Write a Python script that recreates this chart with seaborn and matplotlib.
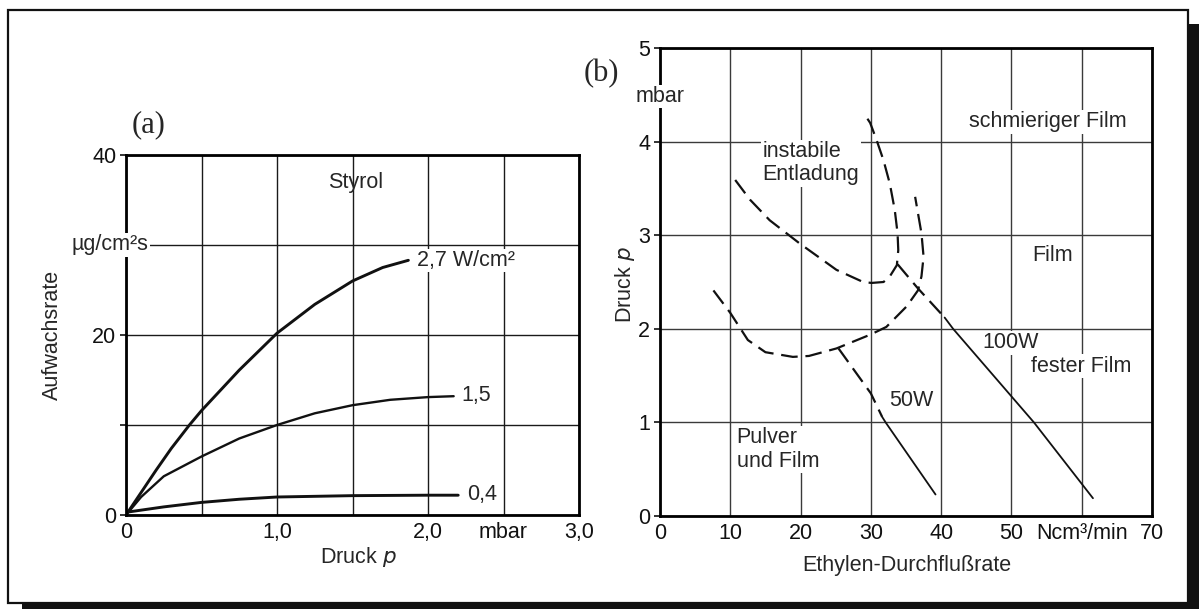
import matplotlib
matplotlib.use("Agg")
import matplotlib.pyplot as plt
import seaborn as sns
from matplotlib.patches import Rectangle

# ---------------- data: panel (a) ----------------
a_p27 = [0.0, 0.1, 0.2, 0.3, 0.42, 0.5, 0.75, 1.0, 1.25, 1.5, 1.7, 1.87]
a_r27 = [0.0, 2.5, 5.0, 7.4, 10.0, 11.6, 16.1, 20.2, 23.4, 26.0, 27.5, 28.3]
a_p15 = [0.0, 0.1, 0.25, 0.5, 0.75, 1.0, 1.25, 1.5, 1.75, 2.0, 2.17]
a_r15 = [0.0, 2.0, 4.3, 6.5, 8.5, 10.0, 11.3, 12.2, 12.8, 13.1, 13.2]
a_p04 = [0.0, 0.25, 0.5, 0.75, 1.0, 1.5, 2.0, 2.2]
a_r04 = [0.3, 0.9, 1.4, 1.75, 2.0, 2.15, 2.2, 2.2]
a_xticks = [0, 0.5, 1.0, 1.5, 2.0, 2.5, 3.0]
a_xlabels = ["0", "", "1,0", "", "2,0", "mbar", "3,0"]
a_yticks = [0, 10, 20, 30, 40]
a_ylabels = ["0", "", "20", "", "40"]

# ---------------- data: panel (b) ----------------
b_upper_x = [10.7, 12.8, 15.6, 19.9, 25.1, 28.9, 30.1, 31.8, 32.7, 33.7, 33.9, 33.8,
             33.4, 32.7, 31.8, 30.8, 29.9, 29.2]
b_upper_y = [3.59, 3.38, 3.16, 2.91, 2.63, 2.50, 2.49, 2.50, 2.56, 2.68, 2.84, 3.02,
             3.27, 3.55, 3.80, 4.02, 4.20, 4.28]
b_lower_x = [7.6, 10.0, 12.5, 15.0, 18.9, 21.2, 25.1, 30.0, 32.2, 35.1, 36.7, 37.2,
             37.5, 37.2, 36.3]
b_lower_y = [2.41, 2.17, 1.88, 1.75, 1.70, 1.71, 1.79, 1.94, 2.02, 2.24, 2.41, 2.56,
             2.77, 3.02, 3.41]
b_100_dash_x = [33.8, 36.6, 40.5]
b_100_dash_y = [2.69, 2.44, 2.12]
b_100_solid_x = [40.5, 41.7, 53.2, 61.6]
b_100_solid_y = [2.12, 2.0, 1.0, 0.19]
b_50_dash_x = [25.4, 30.0, 31.6]
b_50_dash_y = [1.79, 1.31, 1.06]
b_50_solid_x = [31.6, 32.1, 39.2]
b_50_solid_y = [1.06, 1.0, 0.23]
b_xticks = [0, 10, 20, 30, 40, 50, 60, 70]
b_xlabels = ["0", "10", "20", "30", "40", "50", "Ncm³/min", "70"]
b_yticks = [0, 1, 2, 3, 4, 5]
b_ylabels = ["0", "1", "2", "3", "4", "5"]

# ---------------- style ----------------
sns.set_style("white")
plt.rcParams["font.family"] = ["Liberation Sans", "DejaVu Sans"]
plt.rcParams["font.size"] = 15

fig = plt.figure(figsize=(11.99, 6.09), dpi=100)
W, H = 1199, 609

def px_axes(l, t, r, b):
    return fig.add_axes([l / W, 1 - b / H, (r - l) / W, (b - t) / H])

axa = px_axes(126, 155, 579, 515)
axb = px_axes(660, 48, 1152, 516)

FS = 15.5
white_box = dict(facecolor="white", edgecolor="none", pad=1.0)

def style_axes(ax, gridcolor):
    for s in ax.spines.values():
        s.set_visible(True)
        s.set_color("black")
        s.set_linewidth(2.0)
        s.set_zorder(4)
    ax.grid(True, color=gridcolor, linewidth=1.0)
    ax.set_axisbelow(True)
    ax.tick_params(axis="x", length=0, pad=5, labelsize=FS, colors="#111111")
    ax.tick_params(axis="y", length=4, width=1.2, pad=3, labelsize=FS, colors="#111111",
                   direction="out", left=True)

# ---------------- panel (a) ----------------
lw_a = 2.1
sns.lineplot(x=a_p27, y=a_r27, ax=axa, color="#111111", linewidth=lw_a, sort=False, estimator=None)
sns.lineplot(x=a_p15, y=a_r15, ax=axa, color="#111111", linewidth=1.7, sort=False, estimator=None)
sns.lineplot(x=a_p04, y=a_r04, ax=axa, color="#111111", linewidth=lw_a, sort=False, estimator=None)
axa.set_xlim(0, 3.0)
axa.set_ylim(0, 40)
axa.set_xticks(a_xticks)
axa.set_xticklabels(a_xlabels)
axa.set_yticks(a_yticks)
axa.set_yticklabels(a_ylabels)
style_axes(axa, "#1a1a1a")
axa.set_xlabel("")
axa.set_ylabel("")
axa.text(0.512, -0.117, "Druck $\\it{p}$", transform=axa.transAxes, ha="center", va="center",
         fontsize=FS)
axa.text(-0.163, 0.5, "Aufwachsrate", transform=axa.transAxes, ha="center", va="center",
         rotation=90, fontsize=FS)
axa.text(-0.106, 30, "µg/cm²s", ha="center", va="center", fontsize=FS, clip_on=False,
         bbox=white_box, zorder=6)
axa.text(1.52, 36.9, "Styrol", ha="center", va="center", fontsize=FS)
axa.text(1.93, 28.3, "2,7 W/cm²", ha="left", va="center", fontsize=FS, bbox=white_box, zorder=5)
axa.text(2.22, 13.3, "1,5", ha="left", va="center", fontsize=FS, bbox=white_box, zorder=5)
axa.text(2.26, 2.3, "0,4", ha="left", va="center", fontsize=FS, bbox=white_box, zorder=5)
axa.text(0.152, 43.4, "(a)", ha="center", va="center", fontsize=22, clip_on=False,
         family=["Liberation Serif", "DejaVu Serif"])

# ---------------- panel (b) ----------------
dash = [7.5, 3.5]
lw_d = 1.6
lw_s = 1.3
for xs, ys in [(b_upper_x, b_upper_y), (b_lower_x, b_lower_y),
               (b_100_dash_x, b_100_dash_y), (b_50_dash_x, b_50_dash_y)]:
    sns.lineplot(x=xs, y=ys, ax=axb, color="#111111", linewidth=lw_d, sort=False, estimator=None)
    axb.lines[-1].set_dashes(dash)
for xs, ys in [(b_100_solid_x, b_100_solid_y), (b_50_solid_x, b_50_solid_y)]:
    sns.lineplot(x=xs, y=ys, ax=axb, color="#111111", linewidth=lw_s, sort=False, estimator=None)

axb.set_xlim(0, 70)
axb.set_ylim(0, 5)
axb.set_xticks(b_xticks)
axb.set_xticklabels(b_xlabels)
axb.set_yticks(b_yticks)
axb.set_yticklabels(b_ylabels)
style_axes(axb, "#3a3a3a")
axb.set_xlabel("")
axb.set_ylabel("")
axb.text(0.502, -0.105, "Ethylen-Durchflußrate", transform=axb.transAxes, ha="center",
         va="center", fontsize=FS)
axb.text(-0.071, 0.494, "Druck $\\it{p}$", transform=axb.transAxes, ha="center", va="center",
         rotation=90, fontsize=FS)
axb.text(0, 4.48, "mbar", ha="center", va="center", fontsize=FS, clip_on=False,
         bbox=white_box, zorder=6)
axb.text(-8.3, 4.73, "(b)", ha="center", va="center", fontsize=22, clip_on=False,
         family=["Liberation Serif", "DejaVu Serif"])
axb.text(43.9, 4.21, "schmieriger Film", ha="left", va="center", fontsize=FS, bbox=white_box, zorder=5)
axb.text(14.6, 3.77, "instabile\nEntladung", ha="left", va="center", fontsize=FS,
         linespacing=1.15, bbox=white_box, zorder=5)
axb.text(52.9, 2.78, "Film", ha="left", va="center", fontsize=FS, bbox=white_box, zorder=5)
axb.text(45.8, 1.85, "100W", ha="left", va="center", fontsize=FS, bbox=white_box, zorder=5)
axb.text(52.8, 1.60, "fester Film", ha="left", va="center", fontsize=FS, bbox=white_box, zorder=5)
axb.text(32.6, 1.23, "50W", ha="left", va="center", fontsize=FS, bbox=white_box, zorder=5)
axb.text(10.9, 0.71, "Pulver\nund Film", ha="left", va="center", fontsize=FS,
         linespacing=1.15, bbox=white_box, zorder=5)

# ---------------- outer frame with shadow ----------------
fig.patches.append(Rectangle((8 / W, 1 - 603 / H), 1180 / W, 593 / H, transform=fig.transFigure,
                             fill=False, edgecolor="#111111", linewidth=1.6, zorder=0))
fig.patches.append(Rectangle((1189 / W, 0), 10 / W, 1 - 24 / H, transform=fig.transFigure,
                             facecolor="#111111", edgecolor="none", zorder=0))
fig.patches.append(Rectangle((22 / W, 0), 1 - 22 / W, 5 / H, transform=fig.transFigure,
                             facecolor="#111111", edgecolor="none", zorder=0))

fig.savefig("out.png", dpi=100)
